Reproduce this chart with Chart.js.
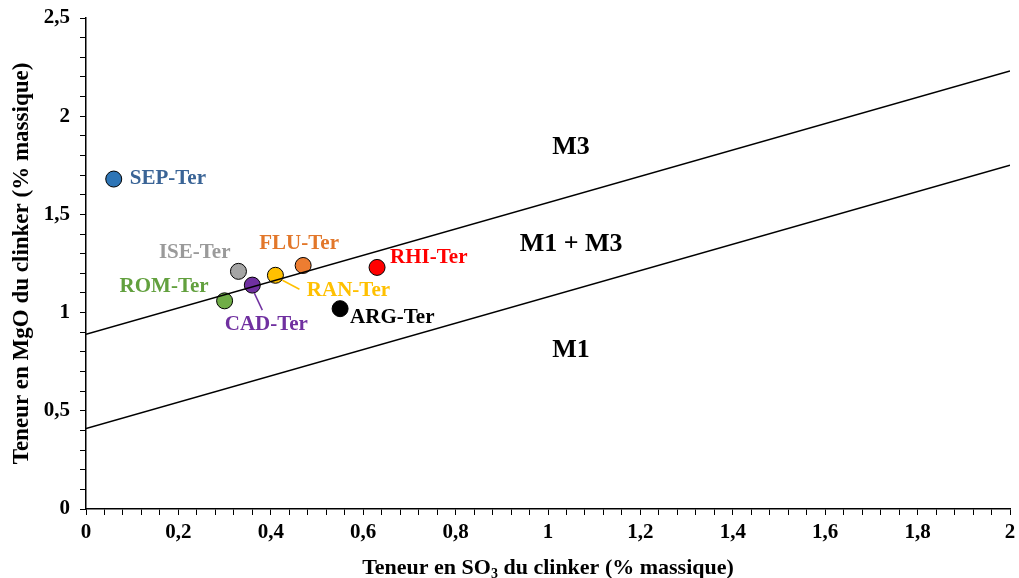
<!DOCTYPE html>
<html lang="fr">
<head>
    <meta charset="UTF-8">
    <title>MgO / SO3 clinker</title>
    <script src="https://cdn.jsdelivr.net/npm/chart.js"></script>
    <style>
        body { margin: 0; background: #fff; }
        .chart-container { width: 1019px; height: 578px; }
    </style>
</head>
<body>
    <div class="chart-container">
        <canvas id="clinkerChart"></canvas>
    </div>

    <script>
        // data
        const sites = ['SEP-Ter', 'ISE-Ter', 'FLU-Ter', 'RHI-Ter', 'ROM-Ter', 'CAD-Ter', 'RAN-Ter', 'ARG-Ter'];
        const so3 = [0.06, 0.33, 0.47, 0.63, 0.30, 0.36, 0.41, 0.55];
        const mgo = [1.68, 1.21, 1.24, 1.23, 1.06, 1.14, 1.19, 1.02];
        const siteColors = ['#2e75b6', '#a5a5a5', '#ed7d31', '#ff0000', '#70ad47', '#7030a0', '#ffc000', '#000000'];
        const labelColors = ['#3a6496', '#9a9a9a', '#e2772a', '#ff0000', '#62a03e', '#7030a0', '#ffc000', '#000000'];

        const boundaryX = [0, 2];
        const upperLine = [0.89, 2.23];
        const lowerLine = [0.41, 1.75];

        const zoneNames = ['M3', 'M1 + M3', 'M1'];
        const zoneX = [1.05, 1.05, 1.05];
        const zoneY = [1.84, 1.35, 0.81];

        const xTicks = [0, 0.2, 0.4, 0.6, 0.8, 1, 1.2, 1.4, 1.6, 1.8, 2];
        const yTicks = [0, 0.5, 1, 1.5, 2, 2.5];

        // label placement in pixels relative to each point: dx, dy, align, leader line
        const labelPos = {
            'SEP-Ter': { dx: 16, dy: 0, align: 'left' },
            'ISE-Ter': { dx: -8, dy: -19, align: 'right' },
            'FLU-Ter': { dx: -4, dy: -22, align: 'center' },
            'RHI-Ter': { dx: 13, dy: -10, align: 'left' },
            'ROM-Ter': { dx: -16, dy: -14, align: 'right' },
            'CAD-Ter': { dx: 14, dy: 39, align: 'center', lead: [2, 8, 10, 25] },
            'RAN-Ter': { dx: 73, dy: 15, align: 'center', lead: [7, 5, 24, 14] },
            'ARG-Ter': { dx: 10, dy: 9, align: 'left' }
        };

        const fmt = v => String(Math.round(v * 100) / 100).replace('.', ',');
        const serif = '"Liberation Serif", "Times New Roman", serif';

        const labelPlugin = {
            id: 'labels',
            afterDatasetsDraw(chart) {
                const ctx = chart.ctx;
                const xs = chart.scales.x, ys = chart.scales.y;
                ctx.save();
                ctx.font = 'bold 21px ' + serif;
                ctx.textBaseline = 'middle';
                sites.forEach((name, i) => {
                    const px = xs.getPixelForValue(so3[i]);
                    const py = ys.getPixelForValue(mgo[i]);
                    const p = labelPos[name];
                    if (p.lead) {
                        ctx.strokeStyle = siteColors[i];
                        ctx.lineWidth = 1.5;
                        ctx.beginPath();
                        ctx.moveTo(px + p.lead[0], py + p.lead[1]);
                        ctx.lineTo(px + p.lead[2], py + p.lead[3]);
                        ctx.stroke();
                    }
                    ctx.fillStyle = labelColors[i];
                    ctx.textAlign = p.align;
                    ctx.fillText(name, px + p.dx, py + p.dy);
                });
                ctx.font = 'bold 26px ' + serif;
                ctx.fillStyle = '#000';
                ctx.textAlign = 'center';
                zoneNames.forEach((z, i) => {
                    ctx.fillText(z, xs.getPixelForValue(zoneX[i]), ys.getPixelForValue(zoneY[i]));
                });
                ctx.restore();
            }
        };

        // subscript in the x title
        const xTitlePlugin = {
            id: 'xTitle',
            afterDraw(chart) {
                const ctx = chart.ctx;
                const a = chart.chartArea;
                const cx = (a.left + a.right) / 2;
                const y = 574;
                ctx.save();
                ctx.fillStyle = '#000';
                ctx.textBaseline = 'alphabetic';
                const big = 'bold 22px ' + serif, small = 'bold 14px ' + serif;
                const p1 = 'Teneur en SO', p2 = '3', p3 = ' du clinker (% massique)';
                ctx.font = big;
                const w1 = ctx.measureText(p1).width, w3 = ctx.measureText(p3).width;
                ctx.font = small;
                const w2 = ctx.measureText(p2).width;
                let x = cx - (w1 + w2 + w3) / 2;
                ctx.textAlign = 'left';
                ctx.font = big;
                ctx.fillText(p1, x, y);
                x += w1;
                ctx.font = small;
                ctx.fillText(p2, x, y + 4);
                x += w2;
                ctx.font = big;
                ctx.fillText(p3, x, y);
                ctx.restore();
            }
        };

        const pointData = sites.map((s, i) => ({ x: so3[i], y: mgo[i] }));

        const ctx = document.getElementById('clinkerChart').getContext('2d');
        const chart = new Chart(ctx, {
            type: 'scatter',
            data: {
                datasets: [
                    {
                        label: 'Limite haute',
                        type: 'line',
                        data: boundaryX.map((x, i) => ({ x: x, y: upperLine[i] })),
                        borderColor: '#000',
                        borderWidth: 1.5,
                        pointRadius: 0,
                        fill: false
                    },
                    {
                        label: 'Limite basse',
                        type: 'line',
                        data: boundaryX.map((x, i) => ({ x: x, y: lowerLine[i] })),
                        borderColor: '#000',
                        borderWidth: 1.5,
                        pointRadius: 0,
                        fill: false
                    },
                    {
                        label: 'Clinkers',
                        data: pointData,
                        backgroundColor: siteColors,
                        borderColor: '#000',
                        borderWidth: 1,
                        pointRadius: 8
                    }
                ]
            },
            options: {
                responsive: true,
                maintainAspectRatio: false,
                animation: false,
                layout: { padding: { top: 18, right: 5, left: 8, bottom: 0 } },
                plugins: {
                    legend: { display: false },
                    tooltip: { enabled: false }
                },
                scales: {
                    x: {
                        type: 'linear',
                        min: 0,
                        max: 2,
                        afterBuildTicks: s => {
                            s.ticks = [];
                            for (let k = 0; k <= 50; k++) s.ticks.push({ value: k * 0.04 });
                        },
                        afterFit: s => { s.height = 69; s.paddingRight = 0; s.paddingLeft = 0; },
                        border: { color: '#000', width: 1.5 },
                        grid: { drawOnChartArea: false, color: '#000', tickLength: 6, tickWidth: 1 },
                        ticks: {
                            autoSkip: false,
                            maxRotation: 0,
                            padding: 5,
                            color: '#000',
                            font: { family: serif, size: 21, weight: 'bold' },
                            callback: v => {
                                const hit = xTicks.find(t => Math.abs(t - v) < 1e-6);
                                return hit === undefined ? '' : fmt(hit);
                            }
                        }
                    },
                    y: {
                        type: 'linear',
                        min: 0,
                        max: 2.5,
                        afterBuildTicks: s => {
                            s.ticks = [];
                            for (let k = 0; k <= 25; k++) s.ticks.push({ value: k * 0.1 });
                        },
                        afterFit: s => { s.width = 78; s.paddingTop = 0; s.paddingBottom = 0; },
                        border: { color: '#000', width: 1.5 },
                        grid: { drawOnChartArea: false, color: '#000', tickLength: 6, tickWidth: 1 },
                        title: {
                            display: true,
                            text: 'Teneur en MgO du clinker (% massique)',
                            color: '#000',
                            font: { family: serif, size: 23, weight: 'bold' },
                            padding: { top: 0, bottom: 2 }
                        },
                        ticks: {
                            autoSkip: false,
                            padding: 10,
                            color: '#000',
                            font: { family: serif, size: 21, weight: 'bold' },
                            callback: v => {
                                const hit = yTicks.find(t => Math.abs(t - v) < 1e-6);
                                return hit === undefined ? '' : fmt(hit);
                            }
                        }
                    }
                }
            },
            plugins: [labelPlugin, xTitlePlugin]
        });
    </script>
</body>
</html>
